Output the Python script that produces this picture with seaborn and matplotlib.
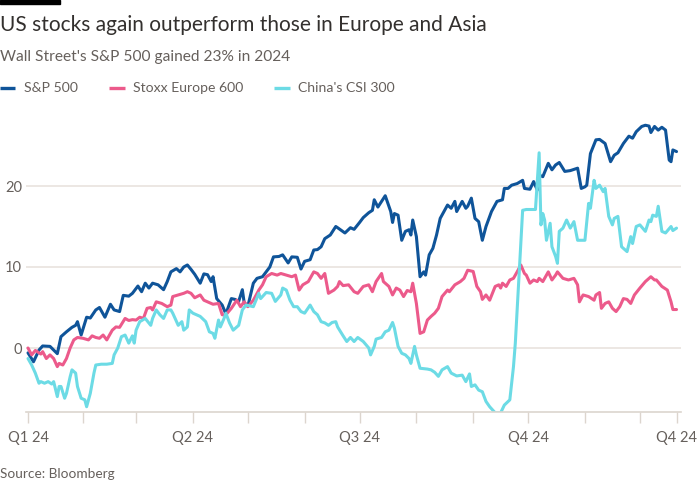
import matplotlib
matplotlib.use("Agg")
import matplotlib.pyplot as plt
import matplotlib.dates as mdates
from matplotlib.lines import Line2D
from matplotlib.patches import Rectangle
import pandas as pd
import seaborn as sns

# ---------------- data (percentage change since start of 2024) ----------------
START = pd.Timestamp("2024-01-02")
END_DAY = 354  # last observation, days after START

spx_days = [0, 3, 6, 8, 12, 16, 18, 21, 24, 26, 27, 29, 32, 34, 37, 39, 42, 45, 47, 50,
            52, 55, 57, 60, 62, 64, 66, 68, 71, 74, 76, 78, 81, 83, 85, 87, 89, 91, 94, 96,
            98, 100, 101, 103, 106, 108, 111, 113, 115, 117, 118, 120, 123, 125, 128, 130,
            132, 134, 137, 139, 142, 144, 147, 149, 151, 154, 156, 158, 160, 162, 165, 168,
            169, 173, 176, 178, 181, 183, 186, 188, 189, 191, 193, 195, 198, 199, 200, 202,
            204, 206, 208, 209, 210, 212, 214, 216, 217, 219, 221, 223, 225, 228, 229, 231,
            233, 234, 237, 239, 240, 242, 244, 246, 248, 250, 253, 256, 259, 260, 262, 264,
            267, 270, 271, 274, 276, 278, 279, 281, 284, 286, 288, 290, 293, 296, 300, 302,
            304, 305, 307, 310, 312, 315, 318, 320, 322, 325, 328, 330, 332, 335, 337, 339,
            340, 342, 344, 346, 348, 350, 351, 352, 354]
spx_vals = [-0.6, -1.7, -0.25, 0.25, 0.2, -0.7, 1.4, 2.0, 2.55, 2.8, 3.25, 1.6, 3.8, 3.7, 4.7,
            5.0, 3.8, 5.4, 4.7, 4.5, 6.5, 6.4, 6.75, 7.65, 6.95, 8.0, 7.4, 8.0, 7.8, 7.2, 8.2,
            9.4, 9.8, 9.4, 10.0, 10.25, 9.7, 9.1, 8.0, 9.15, 9.05, 8.2, 8.8, 6.1, 5.3, 4.2,
            6.1, 6.0, 5.75, 7.2, 5.6, 5.15, 8.0, 8.6, 8.8, 9.4, 10.0, 11.25, 11.3, 11.5, 10.5,
            11.25, 11.2, 9.75, 10.7, 10.9, 12.1, 12.15, 12.5, 13.5, 13.95, 15.0, 14.85, 14.2,
            14.85, 14.65, 15.5, 16.1, 16.7, 17.0, 18.3, 17.4, 18.1, 18.8, 16.85, 15.5, 16.6,
            16.4, 13.3, 14.4, 14.6, 13.95, 15.8, 13.75, 8.8, 9.4, 9.0, 11.5, 12.3, 13.95, 16.0,
            17.25, 17.65, 17.25, 18.1, 16.85, 18.1, 17.25, 17.5, 18.5, 16.0, 15.6, 13.3, 15.0,
            16.85, 18.1, 18.3, 19.7, 19.7, 20.1, 20.3, 20.7, 19.7, 19.6, 20.55, 19.5, 21.35,
            21.15, 22.8, 22.0, 22.6, 22.9, 21.8, 21.9, 22.2, 19.7, 19.9, 20.1, 24.0, 25.7,
            25.75, 25.25, 23.0, 23.8, 24.1, 25.25, 26.15, 25.9, 26.7, 27.35, 27.5, 27.4, 26.6,
            27.35, 26.9, 27.25, 26.9, 23.2, 23.0, 24.45, 24.25]

stoxx_days = [0, 2, 4, 7, 8, 10, 12, 14, 16, 17, 19, 21, 23, 25, 27, 30, 33, 35, 37, 39, 41,
              43, 46, 48, 50, 53, 55, 57, 59, 61, 63, 65, 67, 68, 70, 73, 76, 78, 79, 82, 85,
              87, 89, 91, 94, 96, 98, 101, 104, 106, 108, 111, 114, 116, 118, 120, 123, 126,
              128, 130, 133, 136, 138, 141, 144, 146, 148, 150, 153, 156, 158, 160, 162, 164,
              167, 169, 170, 172, 175, 178, 180, 183, 186, 188, 190, 193, 194, 197, 199, 201,
              203, 205, 207, 209, 210, 212, 214, 216, 218, 220, 222, 224, 226, 229, 230, 233,
              236, 238, 240, 243, 245, 247, 248, 250, 252, 255, 257, 258, 259, 261, 263, 265,
              267, 269, 271, 272, 274, 276, 278, 279, 281, 284, 286, 288, 289, 292, 295, 298,
              300, 301, 303, 306, 309, 310, 312, 313, 315, 317, 319, 321, 323, 325, 327, 329,
              331, 334, 337, 340, 342, 343, 346, 349, 351, 352, 354]
stoxx_vals = [0.0, -0.85, -0.3, -0.75, -0.45, -1.3, -0.85, -1.3, -2.3, -1.9, -2.1, -1.3, 0.0,
              1.0, 1.3, 1.2, 1.0, 1.5, 1.3, 1.2, 1.6, 1.0, 2.2, 2.6, 2.55, 3.65, 3.4, 3.5,
              3.45, 3.8, 3.65, 4.9, 5.0, 4.7, 5.7, 5.5, 5.1, 5.3, 6.35, 6.55, 6.75, 6.95, 6.75,
              6.2, 6.55, 5.9, 5.7, 5.4, 5.5, 4.1, 4.1, 4.9, 5.9, 5.1, 5.7, 5.1, 5.9, 7.15, 7.8,
              8.8, 9.2, 9.0, 9.2, 9.0, 8.8, 9.0, 7.15, 7.8, 8.2, 9.4, 9.2, 8.6, 9.2, 6.75, 7.15,
              7.6, 8.2, 7.7, 7.8, 6.95, 6.75, 7.6, 7.8, 6.95, 8.2, 9.2, 8.2, 7.6, 6.55, 7.4,
              7.15, 6.35, 7.1, 6.95, 8.0, 5.5, 1.8, 2.0, 3.45, 3.9, 4.3, 4.9, 6.35, 7.15, 6.95,
              7.8, 8.2, 8.6, 9.6, 9.45, 7.6, 6.95, 6.0, 6.55, 5.9, 7.6, 7.8, 7.4, 8.0, 7.6,
              8.4, 8.6, 9.4, 10.25, 9.2, 9.0, 8.0, 8.4, 8.2, 8.6, 8.2, 9.4, 8.4, 9.0, 9.4, 8.6,
              8.4, 8.6, 7.8, 5.7, 6.55, 6.35, 5.9, 6.55, 6.85, 4.9, 5.5, 5.7, 4.9, 4.5, 5.1,
              6.1, 6.0, 5.5, 6.55, 7.4, 8.2, 8.8, 8.4, 8.4, 7.6, 7.15, 5.7, 4.75, 4.75]

csi_days = [0, 2, 4, 6, 7, 9, 11, 13, 14, 16, 17, 18, 20, 21, 23, 24, 26, 27, 29, 31, 32, 34,
            36, 37, 40, 43, 46, 47, 49, 51, 53, 55, 57, 58, 59, 61, 64, 67, 68, 70, 72, 74,
            76, 78, 79, 82, 84, 85, 87, 88, 90, 92, 94, 97, 99, 101, 102, 104, 105, 107, 108,
            110, 112, 115, 117, 119, 123, 126, 127, 130, 133, 135, 138, 139, 141, 143, 145,
            147, 149, 151, 154, 156, 158, 160, 162, 164, 166, 168, 169, 172, 174, 176, 178,
            180, 183, 186, 187, 189, 190, 193, 195, 197, 199, 200, 202, 204, 206, 208, 209,
            211, 212, 214, 218, 220, 222, 224, 226, 229, 231, 234, 237, 239, 241, 242, 244,
            246, 248, 250, 252, 255, 258, 260, 263, 265, 266, 268, 270, 272, 275, 277, 279,
            280, 281, 282, 283, 285, 286, 288, 289, 290, 292, 294, 296, 298, 300, 304, 306,
            307, 309, 310, 312, 314, 315, 317, 319, 320, 322, 324, 327, 329, 330, 332, 334,
            337, 339, 340, 341, 343, 344, 346, 348, 351, 352, 354]
csi_vals = [-1.3, -2.1, -3.1, -4.35, -4.15, -4.35, -4.15, -4.45, -4.15, -6.0, -4.75, -4.75,
            -6.2, -5.6, -3.55, -2.7, -3.1, -4.75, -6.2, -6.4, -7.25, -5.6, -3.1, -2.1, -2.0,
            -2.0, -1.9, -0.85, 0.0, 1.4, 1.6, 0.6, 1.5, 0.6, 2.2, 3.25, 3.65, 2.8, 3.65, 4.7,
            4.1, 3.65, 4.7, 4.7, 4.3, 2.8, 3.25, 2.2, 2.6, 4.7, 4.3, 4.1, 3.9, 3.25, 2.0, 1.8,
            1.2, 3.45, 2.6, 3.65, 4.3, 3.1, 2.2, 2.8, 4.7, 5.3, 5.1, 6.75, 6.1, 6.85, 6.75,
            5.75, 6.55, 7.4, 7.15, 5.9, 5.1, 5.1, 4.5, 4.3, 5.3, 4.5, 4.1, 3.25, 3.1, 2.8,
            3.15, 3.25, 2.6, 1.5, 0.8, 1.3, 0.8, 1.3, 0.8, 0.0, -0.85, 0.2, 1.1, 1.3, 2.0,
            2.2, 3.15, 2.45, 0.2, -0.65, -0.85, -1.3, -1.9, 0.2, -0.85, -2.5, -2.6, -2.7,
            -3.0, -3.5, -2.7, -2.3, -3.1, -3.45, -3.35, -4.15, -3.2, -4.75, -4.55, -5.2, -5.4,
            -6.6, -7.25, -8.0, -8.0, -7.05, -6.4, -2.3, 0.6, 8.8, 17.0, 17.1, 17.1, 17.1,
            24.1, 15.2, 16.6, 15.8, 13.3, 15.4, 12.5, 11.3, 10.45, 14.4, 14.8, 15.8, 14.8,
            15.6, 13.3, 13.3, 17.85, 17.25, 20.7, 19.7, 20.1, 19.3, 19.7, 16.25, 15.2, 16.0,
            16.25, 12.5, 11.9, 13.75, 12.9, 15.0, 15.2, 14.4, 15.8, 15.6, 16.4, 16.25, 17.5,
            14.4, 14.2, 15.0, 14.5, 14.8]

series_names = ["S&P 500", "Stoxx Europe 600", "China's CSI 300"]
series_colors = ["#0f5499", "#ec5a8b", "#6cdbe5"]
y_ticks = [0, 10, 20]
quarter_ticks = ["2024-01-02", "2024-04-01", "2024-07-01", "2024-10-01"]
quarter_labels = ["Q1 24", "Q2 24", "Q3 24", "Q4 24", "Q4 24"]
month_ticks = ["2024-02-01", "2024-03-01", "2024-05-01", "2024-06-01",
               "2024-08-01", "2024-09-01", "2024-11-01", "2024-12-01"]

# ---------------- build long table ----------------
frames = []
for name, d, v in zip(series_names, [spx_days, stoxx_days, csi_days],
                      [spx_vals, stoxx_vals, csi_vals]):
    frames.append(pd.DataFrame({
        "date": START + pd.to_timedelta(d, unit="D"),
        "value": v,
        "series": name,
    }))
df = pd.concat(frames, ignore_index=True)

# ---------------- style ----------------
sns.set_theme(style="white")
plt.rcParams["font.family"] = ["Lato", "DejaVu Sans"]
TXT = "#66605c"
DARK = "#33302e"
GRID = "#e9e3de"
AXC = "#dcd5ce"

W, H = 700, 500
fig = plt.figure(figsize=(7, 5), dpi=100)
fig.patch.set_facecolor("white")

ax_left, ax_right, ax_top, ax_bot = 26, 681, 110, 412
ax = fig.add_axes([ax_left / W, 1 - ax_bot / H, (ax_right - ax_left) / W, (ax_bot - ax_top) / H])

palette = dict(zip(series_names, series_colors))
sns.lineplot(data=df, x="date", y="value", hue="series", hue_order=series_names,
             palette=palette, linewidth=2.2, estimator=None, sort=True,
             legend=False, ax=ax)

# axes limits (pixel scale ~1.832 px/day, 8.1 px per percentage point)
px_day = 1.832
ax.set_xlim(START + pd.Timedelta(days=(ax_left - 28) / px_day),
            START + pd.Timedelta(days=(ax_right - 28) / px_day))
ax.set_ylim((348 - ax_bot) / 8.1, (348 - ax_top) / 8.1)

# grid
ax.set_yticks(y_ticks)
ax.set_yticklabels([str(t) for t in y_ticks])
ax.yaxis.grid(True, color=GRID, linewidth=1.2)
ax.xaxis.grid(False)
ax.set_axisbelow(True)
ax.tick_params(axis="y", length=0, pad=3, labelsize=10.5, labelcolor=TXT)

# x ticks
major = [pd.Timestamp(t) for t in quarter_ticks] + [START + pd.Timedelta(days=END_DAY)]
ax.set_xticks(major)
ax.set_xticklabels(quarter_labels)
ax.set_xticks([pd.Timestamp(t) for t in month_ticks], minor=True)
ax.tick_params(axis="x", which="both", length=8, width=1, color=AXC,
               labelsize=10.5, labelcolor=TXT, pad=6, direction="out", bottom=True)

for s in ["top", "right", "left"]:
    ax.spines[s].set_visible(False)
ax.spines["bottom"].set_color(AXC)
ax.spines["bottom"].set_linewidth(1.2)
ax.set_xlabel("")
ax.set_ylabel("")

# ---------------- header texts ----------------
fig.patches.append(Rectangle((0, 1 - 4 / H), 60 / W, 4 / H, transform=fig.transFigure,
                             color="black", zorder=5))
fig.text(0, 1 - 25 / H, "US stocks again outperform those in Europe and Asia",
         fontsize=15, color=DARK, va="center", ha="left")
fig.text(0, 1 - 57 / H, "Wall Street's S&P 500 gained 23% in 2024",
         fontsize=11.2, color=TXT, va="center", ha="left")

leg_y = 1 - 88 / H
for (x0, x1, xt), name, col in zip([(0, 15, 24), (109, 125, 133), (274, 290, 298)],
                                   series_names, series_colors):
    fig.add_artist(Line2D([x0 / W, x1 / W], [leg_y, leg_y], transform=fig.transFigure,
                          color=col, linewidth=2.4, solid_capstyle="butt"))
    fig.text(xt / W, leg_y, name, fontsize=10.1, color=TXT, va="center", ha="left")

fig.text(0, 1 - 474 / H, "Source: Bloomberg", fontsize=9.8, color=TXT,
         va="center", ha="left")

fig.savefig("out.png", dpi=100, facecolor="white")
